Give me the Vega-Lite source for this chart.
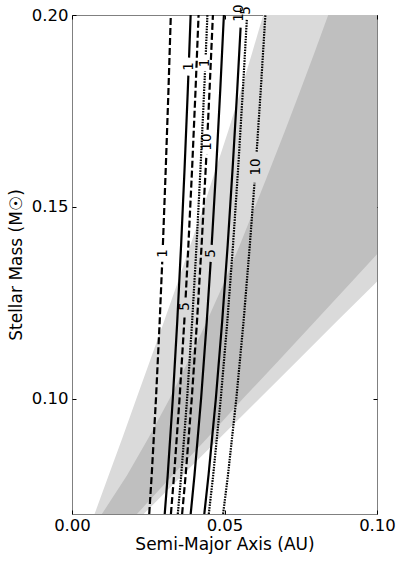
{
  "$schema": "https://vega.github.io/schema/vega-lite/v6.json",
  "width": 305,
  "height": 499,
  "autosize": {"type": "none"},
  "padding": {"left": 72, "top": 15, "right": 30, "bottom": 50},
  "config": {
    "font": "DejaVu Sans",
    "view": {"stroke": "#808080", "strokeWidth": 1},
    "axis": {
      "domain": false, "grid": false, "tickColor": "#000", "tickSize": -4,
      "labelFontSize": 16.5, "titleFontSize": 17, "titleFontWeight": "normal",
      "labelColor": "#000", "titleColor": "#000", "labelFlush": false,
      "labelFont": "DejaVu Sans", "titleFont": "DejaVu Sans"
    }
  },
  "resolve": {"axis": {"x": "independent", "y": "independent"}},
  "datasets": {
    "bands": [
      {"M": 0.07, "lL": 0.0074, "lR": 0.0235, "dL": 0.0098, "dR": 0.0213},
      {"M": 0.08, "lL": 0.0120, "lR": 0.0361, "dL": 0.0180, "dR": 0.0329},
      {"M": 0.09, "lL": 0.0166, "lR": 0.0487, "dL": 0.0252, "dR": 0.0446},
      {"M": 0.10, "lL": 0.0211, "lR": 0.0614, "dL": 0.0320, "dR": 0.0560},
      {"M": 0.11, "lL": 0.0256, "lR": 0.0740, "dL": 0.0382, "dR": 0.0678},
      {"M": 0.12, "lL": 0.0301, "lR": 0.0866, "dL": 0.0441, "dR": 0.0795},
      {"M": 0.13, "lL": 0.0345, "lR": 0.0993, "dL": 0.0497, "dR": 0.0911},
      {"M": 0.14, "lL": 0.0388, "lR": 0.1119, "dL": 0.0550, "dR": 0.1027},
      {"M": 0.15, "lL": 0.0431, "lR": 0.1245, "dL": 0.0600, "dR": 0.1144},
      {"M": 0.16, "lL": 0.0472, "lR": 0.1371, "dL": 0.0650, "dR": 0.1260},
      {"M": 0.17, "lL": 0.0513, "lR": 0.1498, "dL": 0.0699, "dR": 0.1376},
      {"M": 0.18, "lL": 0.0552, "lR": 0.1624, "dL": 0.0747, "dR": 0.1493},
      {"M": 0.19, "lL": 0.0590, "lR": 0.1750, "dL": 0.0794, "dR": 0.1609},
      {"M": 0.20, "lL": 0.0627, "lR": 0.1876, "dL": 0.0840, "dR": 0.1726}
    ],
    "lines": [
      {"id": "d1a", "style": "dashed", "M": 0.07, "a": 0.02532},
      {"id": "d1a", "style": "dashed", "M": 0.08, "a": 0.02612},
      {"id": "d1a", "style": "dashed", "M": 0.10, "a": 0.02753},
      {"id": "d1a", "style": "dashed", "M": 0.12, "a": 0.02874},
      {"id": "d1a", "style": "dashed", "M": 0.1357, "a": 0.02958},
      {"id": "d1b", "style": "dashed", "M": 0.1401, "a": 0.02980},
      {"id": "d1b", "style": "dashed", "M": 0.16, "a": 0.03074},
      {"id": "d1b", "style": "dashed", "M": 0.18, "a": 0.03161},
      {"id": "d1b", "style": "dashed", "M": 0.20, "a": 0.0324},
      {"id": "s1a", "style": "solid", "M": 0.07, "a": 0.03040},
      {"id": "s1a", "style": "solid", "M": 0.08, "a": 0.03137},
      {"id": "s1a", "style": "solid", "M": 0.10, "a": 0.03305},
      {"id": "s1a", "style": "solid", "M": 0.12, "a": 0.03450},
      {"id": "s1a", "style": "solid", "M": 0.14, "a": 0.03577},
      {"id": "s1a", "style": "solid", "M": 0.16, "a": 0.03691},
      {"id": "s1a", "style": "solid", "M": 0.18, "a": 0.03795},
      {"id": "s1a", "style": "solid", "M": 0.1842, "a": 0.03815},
      {"id": "s1b", "style": "solid", "M": 0.1889, "a": 0.03838},
      {"id": "s1b", "style": "solid", "M": 0.20, "a": 0.0389},
      {"id": "d5a", "style": "dashed", "M": 0.07, "a": 0.03243},
      {"id": "d5a", "style": "dashed", "M": 0.08, "a": 0.03346},
      {"id": "d5a", "style": "dashed", "M": 0.10, "a": 0.03526},
      {"id": "d5a", "style": "dashed", "M": 0.12, "a": 0.03681},
      {"id": "d5a", "style": "dashed", "M": 0.1219, "a": 0.03694},
      {"id": "d5b", "style": "dashed", "M": 0.1264, "a": 0.03726},
      {"id": "d5b", "style": "dashed", "M": 0.14, "a": 0.03816},
      {"id": "d5b", "style": "dashed", "M": 0.16, "a": 0.03938},
      {"id": "d5b", "style": "dashed", "M": 0.18, "a": 0.04048},
      {"id": "d5b", "style": "dashed", "M": 0.20, "a": 0.0415},
      {"id": "o1a", "style": "dotted", "M": 0.07, "a": 0.03469},
      {"id": "o1a", "style": "dotted", "M": 0.08, "a": 0.03580},
      {"id": "o1a", "style": "dotted", "M": 0.10, "a": 0.03773},
      {"id": "o1a", "style": "dotted", "M": 0.12, "a": 0.03938},
      {"id": "o1a", "style": "dotted", "M": 0.14, "a": 0.04083},
      {"id": "o1a", "style": "dotted", "M": 0.16, "a": 0.04213},
      {"id": "o1a", "style": "dotted", "M": 0.18, "a": 0.04331},
      {"id": "o1a", "style": "dotted", "M": 0.1853, "a": 0.04361},
      {"id": "o1b", "style": "dotted", "M": 0.1897, "a": 0.04385},
      {"id": "o1b", "style": "dotted", "M": 0.20, "a": 0.0444},
      {"id": "d10a", "style": "dashed", "M": 0.07, "a": 0.03610},
      {"id": "d10a", "style": "dashed", "M": 0.08, "a": 0.03725},
      {"id": "d10a", "style": "dashed", "M": 0.10, "a": 0.03926},
      {"id": "d10a", "style": "dashed", "M": 0.12, "a": 0.04097},
      {"id": "d10a", "style": "dashed", "M": 0.14, "a": 0.04249},
      {"id": "d10a", "style": "dashed", "M": 0.16, "a": 0.04384},
      {"id": "d10a", "style": "dashed", "M": 0.1636, "a": 0.04407},
      {"id": "d10b", "style": "dashed", "M": 0.1701, "a": 0.04448},
      {"id": "d10b", "style": "dashed", "M": 0.18, "a": 0.04507},
      {"id": "d10b", "style": "dashed", "M": 0.20, "a": 0.0462},
      {"id": "s5a", "style": "solid", "M": 0.07, "a": 0.03891},
      {"id": "s5a", "style": "solid", "M": 0.08, "a": 0.04015},
      {"id": "s5a", "style": "solid", "M": 0.10, "a": 0.04232},
      {"id": "s5a", "style": "solid", "M": 0.12, "a": 0.04417},
      {"id": "s5a", "style": "solid", "M": 0.1357, "a": 0.04546},
      {"id": "s5b", "style": "solid", "M": 0.1401, "a": 0.04580},
      {"id": "s5b", "style": "solid", "M": 0.16, "a": 0.04726},
      {"id": "s5b", "style": "solid", "M": 0.18, "a": 0.04858},
      {"id": "s5b", "style": "solid", "M": 0.20, "a": 0.0498},
      {"id": "s10", "style": "solid", "M": 0.07, "a": 0.04337},
      {"id": "s10", "style": "solid", "M": 0.08, "a": 0.04475},
      {"id": "s10", "style": "solid", "M": 0.10, "a": 0.04716},
      {"id": "s10", "style": "solid", "M": 0.12, "a": 0.04922},
      {"id": "s10", "style": "solid", "M": 0.14, "a": 0.05104},
      {"id": "s10", "style": "solid", "M": 0.16, "a": 0.05266},
      {"id": "s10", "style": "solid", "M": 0.18, "a": 0.05414},
      {"id": "s10", "style": "solid", "M": 0.1967, "a": 0.05528},
      {"id": "o5", "style": "dotted", "M": 0.07, "a": 0.04485},
      {"id": "o5", "style": "dotted", "M": 0.08, "a": 0.04628},
      {"id": "o5", "style": "dotted", "M": 0.10, "a": 0.04877},
      {"id": "o5", "style": "dotted", "M": 0.12, "a": 0.05091},
      {"id": "o5", "style": "dotted", "M": 0.14, "a": 0.05279},
      {"id": "o5", "style": "dotted", "M": 0.16, "a": 0.05447},
      {"id": "o5", "style": "dotted", "M": 0.18, "a": 0.05599},
      {"id": "o5", "style": "dotted", "M": 0.1988, "a": 0.05732},
      {"id": "o10a", "style": "dotted", "M": 0.07, "a": 0.04954},
      {"id": "o10a", "style": "dotted", "M": 0.08, "a": 0.05112},
      {"id": "o10a", "style": "dotted", "M": 0.10, "a": 0.05387},
      {"id": "o10a", "style": "dotted", "M": 0.12, "a": 0.05623},
      {"id": "o10a", "style": "dotted", "M": 0.14, "a": 0.05830},
      {"id": "o10a", "style": "dotted", "M": 0.1563, "a": 0.05983},
      {"id": "o10b", "style": "dotted", "M": 0.1644, "a": 0.06055},
      {"id": "o10b", "style": "dotted", "M": 0.18, "a": 0.06185},
      {"id": "o10b", "style": "dotted", "M": 0.20, "a": 0.0634}
    ],
    "labels": [
      {"t": "1", "M": 0.1379, "a": 0.0297},
      {"t": "1", "M": 0.1866, "a": 0.0383},
      {"t": "1", "M": 0.1875, "a": 0.0437},
      {"t": "5", "M": 0.1241, "a": 0.0371},
      {"t": "10", "M": 0.1669, "a": 0.0443},
      {"t": "5", "M": 0.1379, "a": 0.0456},
      {"t": "10", "M": 0.2005, "a": 0.0546},
      {"t": "5", "M": 0.2012, "a": 0.0571},
      {"t": "10", "M": 0.1604, "a": 0.0602}
    ]
  },
  "layer": [
    {
      "data": {"name": "bands"},
      "mark": {"type": "area", "orient": "horizontal", "clip": true, "color": "#dadada"},
      "encoding": {
        "y": {"field": "M", "type": "quantitative", "scale": {"domain": [0.07, 0.2], "nice": false, "zero": false},
              "axis": {"orient": "left", "values": [0.1, 0.15, 0.2], "format": ".2f", "title": "Stellar Mass (M☉)", "labelPadding": 8, "titlePadding": 6}},
        "x": {"field": "lL", "type": "quantitative", "scale": {"domain": [0, 0.1], "nice": false, "zero": false},
              "axis": {"orient": "bottom", "values": [0, 0.05, 0.1], "format": ".2f", "title": "Semi-Major Axis (AU)", "labelPadding": 7, "titlePadding": 3}},
        "x2": {"field": "lR"}
      }
    },
    {
      "data": {"name": "bands"},
      "mark": {"type": "area", "orient": "horizontal", "clip": true, "color": "#bfbfbf"},
      "encoding": {
        "y": {"field": "M", "type": "quantitative", "axis": {"orient": "right", "values": [0.1, 0.15, 0.2], "labels": false, "title": null}},
        "x": {"field": "dL", "type": "quantitative", "axis": {"orient": "top", "values": [0, 0.05, 0.1], "labels": false, "title": null}},
        "x2": {"field": "dR"}
      }
    },
    {
      "data": {"name": "lines"},
      "mark": {"type": "line", "color": "#000", "strokeWidth": 2.2, "clip": true},
      "encoding": {
        "y": {"field": "M", "type": "quantitative", "axis": null},
        "x": {"field": "a", "type": "quantitative", "axis": null},
        "detail": {"field": "id"},
        "order": {"field": "M", "type": "quantitative"},
        "strokeDash": {"field": "style", "type": "nominal", "legend": null,
          "scale": {"domain": ["solid", "dashed", "dotted"], "range": [[1, 0], [7, 3], [1.6, 1.1]]}}
      }
    },
    {
      "data": {"name": "labels"},
      "mark": {"type": "text", "angle": 270, "align": "center", "baseline": "middle", "fontSize": 13.5, "color": "#000", "font": "DejaVu Sans"},
      "encoding": {
        "y": {"field": "M", "type": "quantitative", "axis": null},
        "x": {"field": "a", "type": "quantitative", "axis": null},
        "text": {"field": "t"}
      }
    }
  ]
}
